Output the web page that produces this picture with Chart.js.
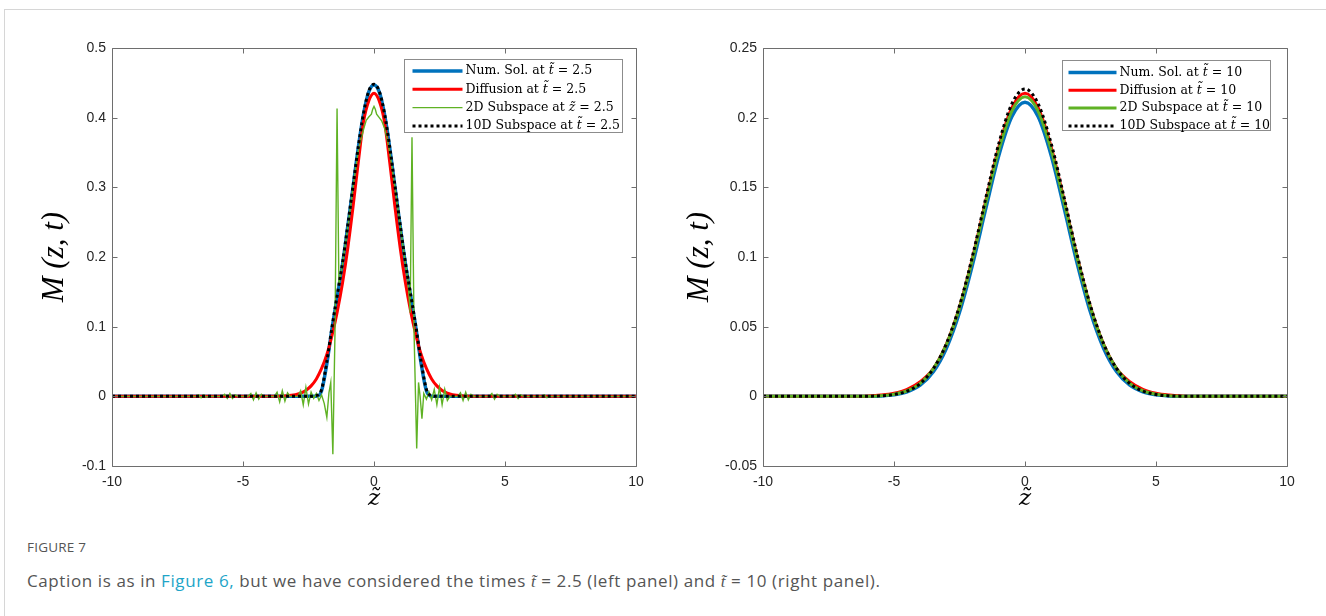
<!DOCTYPE html>
<html><head><meta charset="utf-8">
<script src="https://cdn.jsdelivr.net/npm/chart.js@4.4.1/dist/chart.umd.min.js"></script>
<style>
html,body{margin:0;padding:0;background:#fff;width:1326px;height:616px;overflow:hidden;}
#frame{position:absolute;left:4px;top:9px;width:1400px;height:700px;border-top:1px solid #d6d6d6;border-left:1px solid #d6d6d6;}
canvas{position:absolute;top:0;}
#c1{left:0}
#c2{left:663px}
#fig{position:absolute;left:27px;top:538px;font-family:"Open Sans",Lato,sans-serif;font-size:13.5px;color:#555;letter-spacing:0.2px;}
#cap{position:absolute;left:27px;top:569px;font-family:"Open Sans",Lato,sans-serif;font-size:17px;color:#555;white-space:nowrap;letter-spacing:0.6px;}
#cap a{color:#1ea5c8;text-decoration:none;}
#cap i{font-family:"Liberation Serif",serif;}
</style></head>
<body>
<div id="frame"></div>
<canvas id="c1" width="663" height="520"></canvas>
<canvas id="c2" width="663" height="520"></canvas>
<div id="fig">FIGURE 7</div>
<div id="cap">Caption is as in <a>Figure 6,</a> but we have considered the times <i>t̃</i> = 2.5 (left panel) and <i>t̃</i> = 10 (right panel).</div>
<script>
// ---------- tick values / labels ----------
const xTickVals = [-10, -5, 0, 5, 10];
const xTickLabels = ['-10', '-5', '0', '5', '10'];
const yTickValsLeft = [-0.1, 0, 0.1, 0.2, 0.3, 0.4, 0.5];
const yTickLabelsLeft = ['-0.1', '0', '0.1', '0.2', '0.3', '0.4', '0.5'];
const yTickValsRight = [-0.05, 0, 0.05, 0.1, 0.15, 0.2, 0.25];
const yTickLabelsRight = ['-0.05', '0', '0.05', '0.1', '0.15', '0.2', '0.25'];

// ---------- legend labels ----------
const legendLeft = ['Num. Sol. at t̃ = 2.5', 'Diffusion at t̃ = 2.5', '2D Subspace at z̃ = 2.5', '10D Subspace at t̃ = 2.5'];
const legendRight = ['Num. Sol. at t̃ = 10', 'Diffusion at t̃ = 10', '2D Subspace at t̃ = 10', '10D Subspace at t̃ = 10'];

// ---------- left panel (t = 2.5) ----------
const leftNumX = [-10, -2.4, -2.2, -2.0, -1.8, -1.6, -1.4, -1.2, -1.0, -0.8, -0.6, -0.4, -0.2, 0, 0.2, 0.4, 0.6, 0.8, 1.0, 1.2, 1.4, 1.6, 1.8, 2.0, 2.2, 2.4, 10];
const leftNumY = [0, 0, 0, 0.008, 0.047, 0.098, 0.144, 0.190, 0.244, 0.300, 0.357, 0.405, 0.437, 0.447, 0.437, 0.405, 0.357, 0.300, 0.244, 0.190, 0.144, 0.098, 0.047, 0.008, 0, 0, 0];
const leftTenY = [0, 0, 0.001, 0.010, 0.050, 0.100, 0.146, 0.192, 0.246, 0.302, 0.358, 0.406, 0.438, 0.448, 0.438, 0.406, 0.358, 0.302, 0.246, 0.192, 0.146, 0.100, 0.050, 0.010, 0.001, 0, 0];
const leftDifX = [-10, -4, -3.4, -3.0, -2.8, -2.6, -2.4, -2.2, -2.0, -1.8, -1.6, -1.4, -1.2, -1.0, -0.8, -0.6, -0.4, -0.2, 0, 0.2, 0.4, 0.6, 0.8, 1.0, 1.2, 1.4, 1.6, 1.8, 2.0, 2.2, 2.4, 2.6, 2.8, 3.0, 3.4, 4, 10];
const leftDifY = [0, 0, 0.0006, 0.0022, 0.0045, 0.0085, 0.015, 0.025, 0.040, 0.060, 0.088, 0.122, 0.163, 0.213, 0.272, 0.336, 0.394, 0.424, 0.435, 0.424, 0.394, 0.336, 0.272, 0.213, 0.163, 0.122, 0.088, 0.060, 0.040, 0.025, 0.015, 0.0085, 0.0045, 0.0022, 0.0006, 0, 0];
const leftSubX = [-10, -6.8, -6.7, -6.6, -6.5, -6.4, -6.3, -5.8, -5.7, -5.6, -5.5, -5.4, -5.3, -5.2, -4.8, -4.7, -4.6, -4.5, -4.4, -4.3, -4.2, -3.8, -3.7, -3.6, -3.5, -3.4, -3.3, -3.2, -2.9, -2.8, -2.7, -2.6, -2.5, -2.4, -2.3, -2.2, -2.1, -2.0, -1.9, -1.8, -1.72, -1.65, -1.57, -1.49, -1.41, -1.34, -1.2, -1.0, -0.8, -0.6, -0.5, -0.4, -0.3, -0.2, -0.1, -0.05, 0, 0.05, 0.1, 0.2, 0.3, 0.4, 0.5, 0.6, 0.8, 1.0, 1.2, 1.3, 1.38, 1.45, 1.53, 1.63, 1.7, 1.76, 1.83, 1.9, 2.0, 2.1, 2.2, 2.3, 2.4, 2.5, 2.6, 2.7, 2.8, 2.9, 3.2, 3.3, 3.4, 3.5, 3.6, 3.7, 3.8, 4.4, 4.5, 4.6, 4.7, 4.8, 5.3, 5.4, 5.5, 5.6, 5.7, 6.4, 6.5, 6.6, 6.7, 10];
const leftSubY = [0, 0, 0.002, -0.002, 0.002, -0.001, 0, 0, 0.003, -0.003, 0.004, -0.003, 0.002, 0, 0, 0.004, -0.005, 0.005, -0.004, 0.003, 0, 0, 0.006, -0.008, 0.008, -0.007, 0.005, 0, 0, 0.008, -0.012, 0.013, -0.011, 0.006, -0.003, 0.004, -0.006, 0.002, -0.01, -0.03, 0.005, 0.02, -0.083, 0.09, 0.413, 0.16, 0.19, 0.243, 0.300, 0.352, 0.368, 0.383, 0.396, 0.401, 0.405, 0.412, 0.416, 0.412, 0.405, 0.400, 0.395, 0.385, 0.37, 0.35, 0.300, 0.245, 0.19, 0.165, 0.12, 0.372, 0.09, -0.075, 0.02, 0.0, -0.032, 0.004, -0.004, 0.006, -0.005, 0.01, -0.012, 0.013, -0.012, 0.01, -0.006, 0, 0, 0.005, -0.006, 0.006, -0.005, 0.003, 0, 0, 0.004, -0.004, 0.003, 0, 0, 0.003, -0.003, 0.002, 0, 0, 0.002, -0.002, 0, 0];

// ---------- right panel (t = 10) ----------
const rightX = [-10, -7, -6.5, -6, -5.5, -5, -4.5, -4, -3.5, -3, -2.5, -2, -1.5, -1, -0.5, 0, 0.5, 1, 1.5, 2, 2.5, 3, 3.5, 4, 4.5, 5, 5.5, 6, 6.5, 7, 10];
const rightNumY = [0, 0, 0, 0.0001, 0.0003, 0.0011, 0.0032, 0.0080, 0.0176, 0.0345, 0.0603, 0.0948, 0.1345, 0.1728, 0.2008, 0.2110, 0.2008, 0.1728, 0.1345, 0.0948, 0.0603, 0.0345, 0.0176, 0.0080, 0.0032, 0.0011, 0.0003, 0.0001, 0, 0, 0];
const rightDifY = [0, 0, 0.0001, 0.0003, 0.0009, 0.0022, 0.0050, 0.0105, 0.0199, 0.0375, 0.0642, 0.0996, 0.1402, 0.1789, 0.2071, 0.2175, 0.2071, 0.1789, 0.1402, 0.0996, 0.0642, 0.0375, 0.0199, 0.0105, 0.0050, 0.0022, 0.0009, 0.0003, 0.0001, 0, 0];
const rightSubY = [0, 0, 0, 0.0001, 0.0005, 0.0015, 0.0040, 0.0093, 0.0197, 0.0372, 0.0636, 0.0986, 0.1387, 0.1769, 0.2048, 0.2150, 0.2048, 0.1769, 0.1387, 0.0986, 0.0636, 0.0372, 0.0197, 0.0093, 0.0040, 0.0015, 0.0005, 0.0001, 0, 0, 0];
const rightTenY = [0, 0, 0, 0.0001, 0.0004, 0.0013, 0.0038, 0.0092, 0.0198, 0.0378, 0.0650, 0.1010, 0.1421, 0.1814, 0.2100, 0.2205, 0.2100, 0.1814, 0.1421, 0.1010, 0.0650, 0.0378, 0.0198, 0.0092, 0.0038, 0.0013, 0.0004, 0.0001, 0, 0, 0];

const BLUE = '#0072bd', RED = '#ff0000', GREEN = '#5fb224', BLACK = '#000000';

function pts(xs, ys) { return xs.map((x, i) => ({ x: x, y: ys[i] })); }

const SERIF = '"Liberation Serif", "DejaVu Serif", serif';
const LEGFONT = '"DejaVu Serif", serif';

function drawRich(ctx, text, x, y, size) {
  const m = text.match(/^(.*?)(\S\u0303)(.*)$/);
  const parts = m ? [[m[1], ''], [m[2], 'italic '], [m[3], '']] : [[text, '']];
  ctx.textBaseline = 'middle'; ctx.textAlign = 'left'; ctx.fillStyle = '#000';
  let cx = x;
  parts.forEach(p => {
    ctx.font = p[1] + size + 'px ' + LEGFONT;
    ctx.fillText(p[0], cx, y);
    cx += ctx.measureText(p[0]).width;
  });
}

const boxPlugin = {
  id: 'mlBox',
  afterDatasetsDraw(chart, args, o) {
    const ctx = chart.ctx, a = chart.chartArea, xs = chart.scales.x, ys = chart.scales.y;
    ctx.save();
    ctx.strokeStyle = '#6e6e6e'; ctx.lineWidth = 1;
    const L = Math.round(a.left) + 0.5, R = Math.round(a.right) + 0.5, T = Math.round(a.top) + 0.5, B = Math.round(a.bottom) + 0.5;
    ctx.beginPath();
    ctx.rect(L, T, R - L, B - T);
    const tl = 5;
    xs.ticks.forEach(t => {
      const px = Math.round(xs.getPixelForValue(t.value)) + 0.5;
      ctx.moveTo(px, B); ctx.lineTo(px, B - tl);
      ctx.moveTo(px, T); ctx.lineTo(px, T + tl);
    });
    ys.ticks.forEach(t => {
      const py = Math.round(ys.getPixelForValue(t.value)) + 0.5;
      ctx.moveTo(L, py); ctx.lineTo(L + tl, py);
      ctx.moveTo(R, py); ctx.lineTo(R - tl, py);
    });
    ctx.stroke();
    // legend
    const bx = Math.round(a.right - o.right - o.width) + 0.5, by = Math.round(a.top + o.top) + 0.5;
    ctx.fillStyle = '#fff';
    ctx.fillRect(bx, by, o.width, o.height);
    ctx.strokeStyle = '#8c8c8c';
    ctx.strokeRect(bx, by, o.width, o.height);
    chart.data.datasets.forEach((ds, i) => {
      const yy = by + o.firstRow + i * o.rowGap;
      ctx.beginPath();
      ctx.strokeStyle = ds.borderColor; ctx.lineWidth = ds.borderWidth;
      ctx.setLineDash(ds.borderDash || []);
      ctx.moveTo(bx + o.lineX0, yy); ctx.lineTo(bx + o.lineX1, yy);
      ctx.stroke();
      ctx.setLineDash([]);
      drawRich(ctx, ds.label, bx + o.textX, yy, o.fontSize);
    });
    ctx.restore();
  }
};

function makeChart(id, cfg) {
  const ds = (label, data, color, width, order, extra) => Object.assign({
    label: label, data: data, borderColor: color, borderWidth: width, order: order,
    pointRadius: 0, fill: false, cubicInterpolationMode: 'monotone', tension: 0.4
  }, extra || {});
  return new Chart(document.getElementById(id), {
    type: 'line',
    data: {
      datasets: [
        ds(cfg.labels[0], cfg.num, BLUE, 3.5, 3),
        ds(cfg.labels[1], cfg.dif, RED, 3, 2),
        ds(cfg.labels[2], cfg.sub, GREEN, cfg.subWidth, 1, cfg.subExtra),
        ds(cfg.labels[3], cfg.ten, BLACK, 3, 0, { borderDash: [3, 3] })
      ]
    },
    options: {
      responsive: false, animation: false, devicePixelRatio: 1,
      layout: { padding: { top: 48, right: cfg.padRight, bottom: 0, left: 0 } },
      plugins: { legend: { display: false }, tooltip: { enabled: false }, mlBox: cfg.legend },
      scales: {
        x: {
          type: 'linear', min: -10, max: 10,
          grid: { display: false, drawTicks: false }, border: { display: false },
          afterBuildTicks: s => { s.ticks = xTickVals.map(v => ({ value: v })); },
          ticks: { callback: (v, i) => xTickLabels[i], font: { family: '"Liberation Sans", Arial, sans-serif', size: 14 }, color: '#262626', padding: 8, maxRotation: 0, autoSkip: false },
          title: { display: true, text: 'z̃', color: '#000', font: { family: '"DejaVu Serif", serif', style: 'italic', size: 23 }, padding: { top: 0, bottom: 7 } },
          afterFit: s => { s.height = 54; }
        },
        y: {
          type: 'linear', min: cfg.yMin, max: cfg.yMax,
          grid: { display: false, drawTicks: false }, border: { display: false },
          afterBuildTicks: s => { s.ticks = cfg.yVals.map(v => ({ value: v })); },
          ticks: { callback: (v, i) => cfg.yLabels[i], font: { family: '"Liberation Sans", Arial, sans-serif', size: 14 }, color: '#262626', padding: 6, autoSkip: false },
          title: { display: true, text: 'M (z, t)', color: '#000', font: { family: SERIF, style: 'italic', size: 31 }, padding: { top: cfg.titlePad, bottom: 0 } },
          afterFit: s => { s.width = cfg.yWidth; }
        }
      }
    },
    plugins: [boxPlugin]
  });
}

makeChart('c1', {
  labels: legendLeft,
  num: pts(leftNumX, leftNumY), dif: pts(leftDifX, leftDifY), sub: pts(leftSubX, leftSubY), ten: pts(leftNumX, leftTenY),
  subWidth: 1.4, subExtra: { cubicInterpolationMode: 'default', tension: 0 },
  yMin: -0.1, yMax: 0.5, yVals: yTickValsLeft, yLabels: yTickLabelsLeft,
  yWidth: 112, padRight: 27, titlePad: 36,
  legend: { right: 14, top: 11, width: 218, height: 73, firstRow: 11.5, rowGap: 18.3, lineX0: 8, lineX1: 58, textX: 61, fontSize: 12.5 }
});

makeChart('c2', {
  labels: legendRight,
  num: pts(rightX, rightNumY), dif: pts(rightX, rightDifY), sub: pts(rightX, rightSubY), ten: pts(rightX, rightTenY),
  subWidth: 3, subExtra: {},
  yMin: -0.05, yMax: 0.25, yVals: yTickValsRight, yLabels: yTickLabelsRight,
  yWidth: 100, padRight: 39, titlePad: 18,
  legend: { right: 17, top: 12, width: 208, height: 70, firstRow: 12, rowGap: 17.8, lineX0: 6, lineX1: 54, textX: 57, fontSize: 12.5 }
});
</script>
</body></html>
